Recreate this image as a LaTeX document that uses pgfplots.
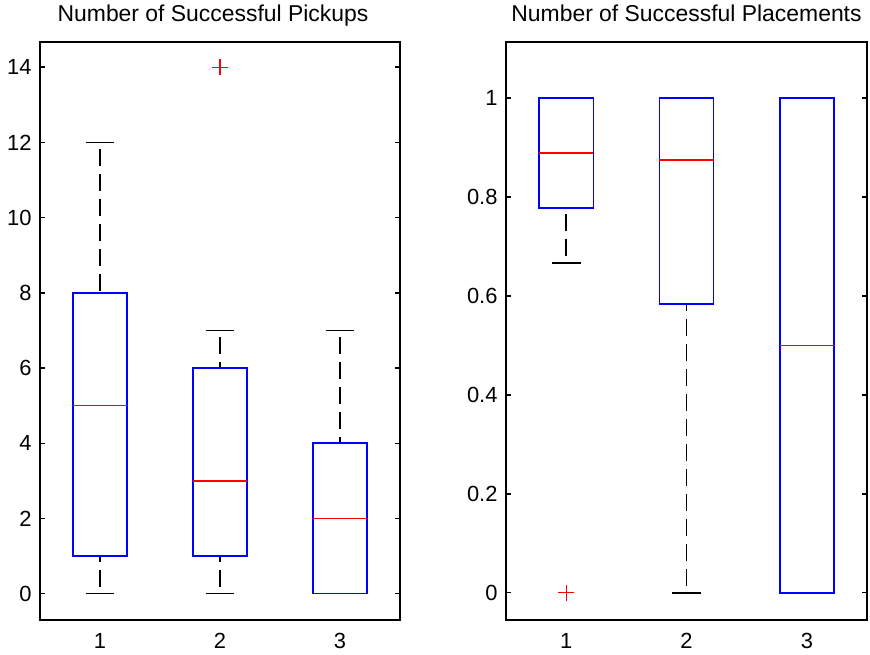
\documentclass[border=0pt]{standalone}
\usepackage{fontspec}
\setmainfont{Liberation Sans}
\usepackage{pgfplots}
\pgfplotsset{compat=1.18}
\usepgfplotslibrary{statistics}
\pgfplotsset{
  mlbox/.style={
    black,
    boxplot/draw direction=y,
    boxplot/box extend=0.45,
    boxplot/whisker extend=0.24,
    boxplot/every box/.style={draw=blue,line width=1.5bp,solid},
    boxplot/every median/.style={draw=red,line width=1.5bp,solid},
    boxplot/draw/lower whisker/.code={%
      \draw[black,line width=1.5bp,dash pattern=on 17bp off 8bp,dash phase=18.3bp]
        (boxplot cs:\pgfplotsboxplotvalue{lower whisker}) -- (boxplot cs:\pgfplotsboxplotvalue{lower quartile});
      \draw[black,line width=1.5bp,solid]
        (boxplot whisker cs:\pgfplotsboxplotvalue{lower whisker},0) -- (boxplot whisker cs:\pgfplotsboxplotvalue{lower whisker},1);
    },
    boxplot/draw/upper whisker/.code={%
      \draw[black,line width=1.5bp,dash pattern=on 17bp off 8bp,dash phase=18.3bp]
        (boxplot cs:\pgfplotsboxplotvalue{upper whisker}) -- (boxplot cs:\pgfplotsboxplotvalue{upper quartile});
      \draw[black,line width=1.5bp,solid]
        (boxplot whisker cs:\pgfplotsboxplotvalue{upper whisker},0) -- (boxplot whisker cs:\pgfplotsboxplotvalue{upper whisker},1);
    },
    mark=+, mark size=8bp, mark options={draw=red,solid,line width=1.2bp},
  },
  mlaxis/.style={
    scale only axis, height=578bp,
    xmin=0.5, xmax=3.5, xtick={1,2,3}, xticklabels={1,2,3},
    xtick style={draw=none},
    tick align=inside, major tick length=5bp,
    axis line style={line width=1.4bp},
    ytick style={black,line width=1.4bp},
    ticklabel style={font=\fontsize{22}{25}\selectfont},
    /pgf/number format/assume math mode=true,
    xticklabel style={anchor=base, yshift=-29bp},
    yticklabel style={anchor=east, xshift=-5bp},
    title style={font=\fontsize{23}{26}\selectfont, at={(0.5,1)}, anchor=base, yshift=15bp},
    clip=false,
  },
}
\begin{document}
\begin{tikzpicture}[x=1bp,y=1bp]
\useasboundingbox (0,0) rectangle (870,655);
\begin{axis}[mlaxis, at={(40bp,35bp)}, anchor=south west, width=360bp,
  ymin=-0.70, ymax=14.67, ytick={0,2,...,14},
  title style={xshift=-7bp},
  title={Number of Successful Pickups}]
\addplot[mlbox, boxplot prepared={draw position=1, lower whisker=0, lower quartile=1, median=5, upper quartile=8, upper whisker=12}] coordinates {};
\addplot[mlbox, boxplot prepared={draw position=2, lower whisker=0, lower quartile=1, median=3, upper quartile=6, upper whisker=7}] table[row sep=\\,y index=0] {data\\ 14\\};
\addplot[mlbox, boxplot prepared={draw position=3, lower whisker=0, lower quartile=0, median=2, upper quartile=4, upper whisker=7}] coordinates {};
\end{axis}
\begin{axis}[mlaxis, at={(506bp,35bp)}, anchor=south west, width=361bp,
  ymin=-0.055, ymax=1.113, ytick={0,0.2,0.4,0.6,0.8,1},
  yticklabels={0,0.2,0.4,0.6,0.8,1},
  title={Number of Successful Placements}]
\addplot[mlbox, boxplot prepared={draw position=1, lower whisker=0.6667, lower quartile=0.7778, median=0.8889, upper quartile=1, upper whisker=1}] table[row sep=\\,y index=0] {data\\ 0\\};
\addplot[mlbox, boxplot prepared={draw position=2, lower whisker=0, lower quartile=0.5833, median=0.875, upper quartile=1, upper whisker=1}] coordinates {};
\addplot[mlbox, boxplot prepared={draw position=3, lower whisker=0, lower quartile=0, median=0.5, upper quartile=1, upper whisker=1}] coordinates {};
\end{axis}
\end{tikzpicture}
\end{document}
